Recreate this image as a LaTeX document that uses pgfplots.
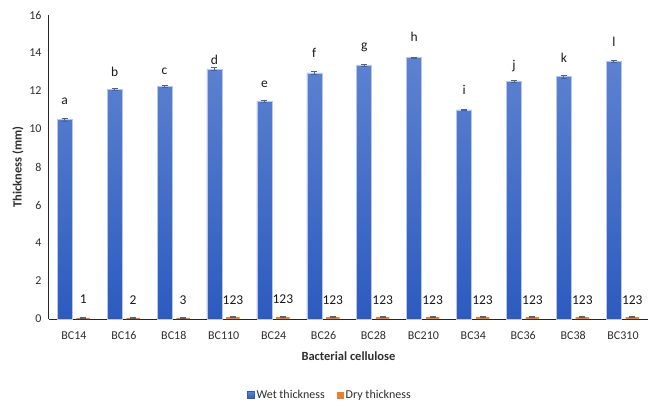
\documentclass[border=0pt]{standalone}
\usepackage{fontspec}
\setmainfont{Carlito}
\usepackage{pgfplots}
\usepackage{pgfplotstable}
\pgfplotsset{compat=1.18}
\usetikzlibrary{calc}

\definecolor{wettop}{HTML}{5D82D0}
\definecolor{wetbot}{HTML}{2C5BBF}
\definecolor{wetedge}{HTML}{B9C6E8}
\definecolor{drycol}{HTML}{ED7D31}
\definecolor{errcol}{HTML}{56627A}
\definecolor{txt}{HTML}{2E2E2E}

% x: category index; wet/dry thickness (mm) with error, letter groups and label heights
\pgfplotstableread{
x  wet    wetErr  wetLab  wetLy   dry   dryErr  dryLab  dryLy
0  10.50  0.08    a       11.48   0.06  0.03    1       1.02
1  12.10  0.05    b       13.03   0.06  0.03    2       1.02
2  12.25  0.06    c       13.03   0.06  0.03    3       0.98
3  13.15  0.07    d       13.64   0.10  0.03    123     0.98
4  11.45  0.05    e       12.37   0.10  0.03    123     1.02
5  12.95  0.07    f       13.99   0.10  0.03    123     0.98
6  13.35  0.04    g       14.29   0.10  0.03    123     0.98
7  13.75  0.04    h       14.86   0.10  0.03    123     0.98
8  11.00  0.04    i       12.06   0.10  0.03    123     0.98
9  12.50  0.05    j       13.34   0.10  0.03    123     0.98
10 12.75  0.07    k       13.74   0.10  0.03    123     0.98
11 13.55  0.06    l       14.60   0.10  0.03    123     0.98
}\bcdata

\begin{document}
\begin{tikzpicture}
\begin{axis}[
  name=ax,
  scale only axis,
  width=599bp, height=304bp,
  xmin=-0.5, xmax=11.5,
  ymin=0, ymax=16,
  axis x line*=bottom,
  axis y line*=left,
  axis line style={line width=1bp, black!85},
  xtick={0,...,11},
  xticklabels={BC14,BC16,BC18,BC110,BC24,BC26,BC28,BC210,BC34,BC36,BC38,BC310},
  ytick={0,2,...,16},
  major tick length=0pt,
  /pgf/number format/assume math mode=true,
  tick label style={font=\fontsize{12bp}{14bp}\selectfont, text=txt},
  xticklabel style={yshift=-9bp},
  yticklabel style={xshift=-4bp},
  xlabel={Bacterial cellulose},
  ylabel={Thickness (mm)},
  label style={font=\bfseries\fontsize{12.5bp}{14bp}\selectfont, text=txt},
  xlabel style={at={(axis description cs:0.5,0)}, anchor=center, yshift=-37bp},
  ylabel style={at={(axis description cs:0,0.5)}, anchor=center, yshift=31bp},
  legend style={at={(rel axis cs:0.469,-0.25)}, anchor=center, draw=none,
    font=\fontsize{12bp}{14bp}\selectfont, text=txt,
    legend columns=2, /tikz/every even column/.append style={column sep=10bp}},
  legend cell align=left,
  clip=false,
]
\addplot[ybar, bar width=0.3, bar shift=0pt, draw=wetedge, line width=0.5bp,
  top color=wettop, bottom color=wetbot,
  legend image code/.code={\fill[wetbot] (0bp,-3.5bp) rectangle (7bp,3.5bp);},
  error bars/.cd, y dir=both, y explicit,
  error bar style={line width=0.9bp, errcol},
  error mark options={rotate=90, mark size=3bp, line width=0.9bp, errcol}]
  table[x expr=\thisrow{x}-0.185, y=wet, y error=wetErr] {\bcdata};
\addlegendentry{Wet thickness}
\addplot[ybar, bar width=0.27, bar shift=0pt, draw=none, fill=drycol,
  legend image code/.code={\fill[drycol] (0bp,-3.5bp) rectangle (7bp,3.5bp);},
  error bars/.cd, y dir=both, y explicit,
  error bar style={line width=0.9bp, errcol},
  error mark options={rotate=90, mark size=3bp, line width=0.9bp, errcol}]
  table[x expr=\thisrow{x}+0.185, y=dry, y error=dryErr] {\bcdata};
\addlegendentry{Dry thickness}
% letter groups above the bars
\addplot[only marks, mark=none, forget plot, nodes near coords, point meta=explicit symbolic,
  nodes near coords style={anchor=center, font=\fontsize{13.5bp}{15bp}\selectfont, text=black!90}]
  table[x expr=\thisrow{x}-0.185, y=wetLy, meta=wetLab] {\bcdata};
\addplot[only marks, mark=none, forget plot, nodes near coords, point meta=explicit symbolic,
  nodes near coords style={anchor=center, font=\fontsize{13.5bp}{15bp}\selectfont, text=black!90}]
  table[x expr=\thisrow{x}+0.185, y=dryLy, meta=dryLab] {\bcdata};
\end{axis}
\pgfresetboundingbox
\path[use as bounding box] ($(ax.south west)+(-49bp,-87bp)$) rectangle ++(648bp,406bp);
\end{tikzpicture}
\end{document}
